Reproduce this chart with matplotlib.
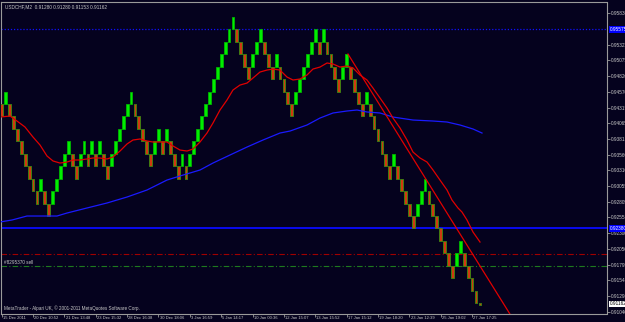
import matplotlib
matplotlib.use("Agg")
import matplotlib.pyplot as plt
import matplotlib.transforms as mtransforms
from matplotlib.patches import Rectangle

plt.rcParams['font.family'] = ['Liberation Sans', 'DejaVu Sans']

BG = '#05021e'
TXT = '#c8c8c8'
FRAME = '#9a9a9a'

# renko bricks (USDCHF, 20 pip box), close price of each brick
brick_size = 0.0020
first_open = 0.94375
brick_close = [
    0.94175, 0.94575, 0.94175, 0.93975, 0.93775, 0.93575, 0.93375, 0.93175,
    0.92975, 0.92775, 0.93175, 0.92775, 0.92575, 0.92975, 0.93175, 0.93375,
    0.93575, 0.93775, 0.93375, 0.93175, 0.93575, 0.93775, 0.93375, 0.93775,
    0.93375, 0.93775, 0.93375, 0.93175, 0.93575, 0.93775, 0.93975, 0.94175,
    0.94375, 0.94575, 0.94175, 0.93975, 0.93775, 0.93575, 0.93375, 0.93775,
    0.93975, 0.93575, 0.93975, 0.93575, 0.93375, 0.93175, 0.93575, 0.93175,
    0.93575, 0.93775, 0.93975, 0.94175, 0.94375, 0.94575, 0.94775, 0.94975,
    0.95175, 0.95375, 0.95575, 0.95775, 0.95375, 0.95175, 0.94975, 0.94775,
    0.95175, 0.95375, 0.95575, 0.95175, 0.94975, 0.94775, 0.95175, 0.94775,
    0.94575, 0.94375, 0.94175, 0.94575, 0.94775, 0.94975, 0.95175, 0.95375,
    0.95575, 0.95175, 0.95575, 0.95175, 0.94975, 0.94775, 0.94575, 0.94975,
    0.95175, 0.94775, 0.94575, 0.94375, 0.94175, 0.94575, 0.94175, 0.93975,
    0.93775, 0.93575, 0.93375, 0.93175, 0.93575, 0.93175, 0.92975, 0.92775,
    0.92575, 0.92375, 0.92775, 0.92975, 0.93175, 0.92775, 0.92575, 0.92375,
    0.92175, 0.91975, 0.91775, 0.91575, 0.91975, 0.92175, 0.91775, 0.91575,
    0.91375, 0.91175,
]
partial_close = 0.91150

# moving averages (bar position, price)
red_ma_x = [-0.43, 2.12, 3.90, 5.94, 7.98, 9.77, 11.56, 13.09, 14.87, 16.66,
            18.19, 19.97, 21.76, 23.29, 25.08, 26.86, 28.39, 30.18, 31.97,
            33.49, 35.28, 37.07, 38.60, 40.38, 42.17, 43.70, 45.48, 47.27,
            48.80, 50.59, 52.37, 53.90, 55.69, 57.47, 59.00, 60.79, 62.58,
            64.11, 65.89, 67.68, 69.21, 70.99, 72.78, 74.31, 76.10, 77.88,
            79.41, 81.20, 82.99, 84.52, 86.30, 88.09, 89.62, 91.40, 93.19,
            94.72, 96.51, 98.29, 99.82, 101.61, 103.39, 104.92, 106.71, 108.50,
            110.03, 111.81, 113.60, 114.87, 116.40, 117.42, 118.70, 120.23,
            122.02]
red_ma_y = [0.94165, 0.94181, 0.94101, 0.94005, 0.93844, 0.93716, 0.93539,
            0.93459, 0.93426, 0.93442, 0.93475, 0.93475, 0.93491, 0.93507,
            0.93507, 0.93491, 0.93523, 0.93619, 0.93732, 0.93796, 0.93812,
            0.93780, 0.93764, 0.93764, 0.93764, 0.93700, 0.93635, 0.93619,
            0.93651, 0.93764, 0.93908, 0.94069, 0.94278, 0.94438, 0.94599,
            0.94679, 0.94711, 0.94792, 0.94888, 0.94920, 0.94936, 0.94920,
            0.94808, 0.94760, 0.94776, 0.94840, 0.94936, 0.94968, 0.95033,
            0.95017, 0.94968, 0.94985, 0.94953, 0.94840, 0.94760, 0.94631,
            0.94471, 0.94310, 0.94149, 0.93989, 0.93796, 0.93603, 0.93507,
            0.93442, 0.93314, 0.93153, 0.92993, 0.92832, 0.92704, 0.92639,
            0.92511, 0.92318, 0.92157]

blue_ma_x = [-0.43, 2.63, 6.45, 14.11, 16.66, 21.76, 26.86, 31.97, 37.07,
             42.17, 45.48, 50.59, 53.90, 58.24, 62.58, 66.66, 70.99, 73.55,
             77.88, 81.20, 84.52, 88.09, 90.64, 93.19, 96.51, 99.82, 104.92,
             110.03, 113.60, 116.91, 120.23, 122.53]
blue_ma_y = [0.92479, 0.92511, 0.92575, 0.92575, 0.92623, 0.92704, 0.92784,
             0.92880, 0.92993, 0.93153, 0.93218, 0.93314, 0.93426, 0.93555,
             0.93683, 0.93796, 0.93908, 0.93940, 0.94037, 0.94149, 0.94230,
             0.94262, 0.94278, 0.94246, 0.94230, 0.94165, 0.94117, 0.94101,
             0.94085, 0.94037, 0.93973, 0.93908]

trend_x = [88.34, 129.67]
trend_y = [0.95177, 0.90999]

level_blue_dot = 0.95575
level_blue = 0.92380
level_red = 0.91970
level_green = 0.91780
last_price = 0.91162

price_ticks = [0.95830, 0.95325, 0.95075, 0.94820, 0.94570, 0.94315, 0.94065,
               0.93815, 0.93560, 0.93310, 0.93055, 0.92805, 0.92555, 0.92300,
               0.92050, 0.91795, 0.91545, 0.91290, 0.91040]
time_pos = [0, 8, 16, 24, 32, 40, 48, 56, 64, 72, 80, 88, 96, 104, 112, 120]
time_labels = ['15 Dec 2011', '20 Dec 10:52', '21 Dec 13:48', '23 Dec 15:32',
               '28 Dec 16:38', '30 Dec 18:06', '3 Jan 16:59', '5 Jan 14:17',
               '10 Jan 00:36', '12 Jan 15:07', '13 Jan 15:52', '17 Jan 15:12',
               '19 Jan 18:20', '23 Jan 12:39', '25 Jan 19:02', '27 Jan 17:25']

W, H = 625, 322
fig = plt.figure(figsize=(W / 100, H / 100), dpi=100, facecolor=BG)
ax = fig.add_axes([1.5 / W, 1 - 313.5 / H, 605 / W, 311.5 / H], facecolor=BG)
ax.set_xlim(-0.05, 154.29)
ax.set_ylim(0.91009, 0.96013)

for sp in ax.spines.values():
    sp.set_color(FRAME)
    sp.set_linewidth(0.8)

# horizontal levels
ax.axhline(level_blue_dot, color='#1010ff', lw=0.9, ls=(0, (1, 1.5)))
ax.axhline(level_blue, color='#0a0aff', lw=1.3)
ax.axhline(level_red, color='#a00000', lw=0.8, ls=(0, (5, 2, 1, 2)))
ax.axhline(level_green, color='#1e7a1e', lw=0.8, ls=(0, (5, 2, 1, 2)))

# bricks
prev = first_open
for i, c in enumerate(brick_close):
    if c > prev:
        lo, fc, ec = c - brick_size, '#00ee00', '#00b400'
    else:
        lo, fc, ec = c, '#d03a10', '#3c8c10'
    ax.add_patch(Rectangle((i - 0.36, lo), 0.72, brick_size, fc=fc, ec=ec, lw=0.6, zorder=3))
    prev = c
i = len(brick_close)
ax.add_patch(Rectangle((i - 0.36, partial_close), 0.72, prev - partial_close,
                       fc='#d03a10', ec='#3c8c10', lw=0.6, zorder=3))

# indicators
ax.plot(blue_ma_x, blue_ma_y, color='#1a1aff', lw=0.9, zorder=4)
ax.plot(red_ma_x, red_ma_y, color='#e00000', lw=0.9, zorder=4)
ax.plot(trend_x, trend_y, color='#e00000', lw=0.9, zorder=4)

# price scale on the right
ax.yaxis.tick_right()
ax.set_yticks(price_ticks)
ax.set_yticklabels(['%.5f' % p for p in price_ticks])
ax.tick_params(axis='y', length=2, width=0.6, color=FRAME, labelcolor=TXT,
               labelsize=3.4, pad=1)

ax.set_xticks(time_pos)
ax.set_xticklabels([])
ax.tick_params(axis='x', length=2.5, width=0.6, color=FRAME, direction='out')
tx = mtransforms.blended_transform_factory(ax.transData, ax.transAxes)
for p, lab in zip(time_pos, time_labels):
    ax.text(p + 0.3, -0.008, lab, transform=tx, ha='left', va='top',
            fontsize=3.0, color=TXT, clip_on=False)

ty = mtransforms.blended_transform_factory(ax.transAxes, ax.transData)
boxes = [(level_blue_dot, '#0000ff', 'white'), (level_blue, '#0000ff', 'white'),
         (last_price, 'white', 'black')]
for val, bc, tc in boxes:
    ax.text(1.006, val, '%.5f' % val, transform=ty, ha='left', va='center',
            fontsize=3.4, color=tc, clip_on=False,
            bbox=dict(fc=bc, ec='none', pad=0.6))

ax.text(0.005, 0.993, 'USDCHF,M2  0.91280 0.91280 0.91153 0.91162',
        transform=ax.transAxes, ha='left', va='top', fontsize=3.4, color=TXT)
ax.text(0.004, level_green + 0.0001, '#8295370 sell', transform=ty, ha='left',
        va='bottom', fontsize=3.3, color=TXT)
ax.text(0.004, 0.008, 'MetaTrader - Alpari UK, \u00a9 2001-2011 MetaQuotes Software Corp.',
        transform=ax.transAxes, ha='left', va='bottom', fontsize=3.3, color=TXT)

fig.savefig('out.png', dpi=100, facecolor=BG)
